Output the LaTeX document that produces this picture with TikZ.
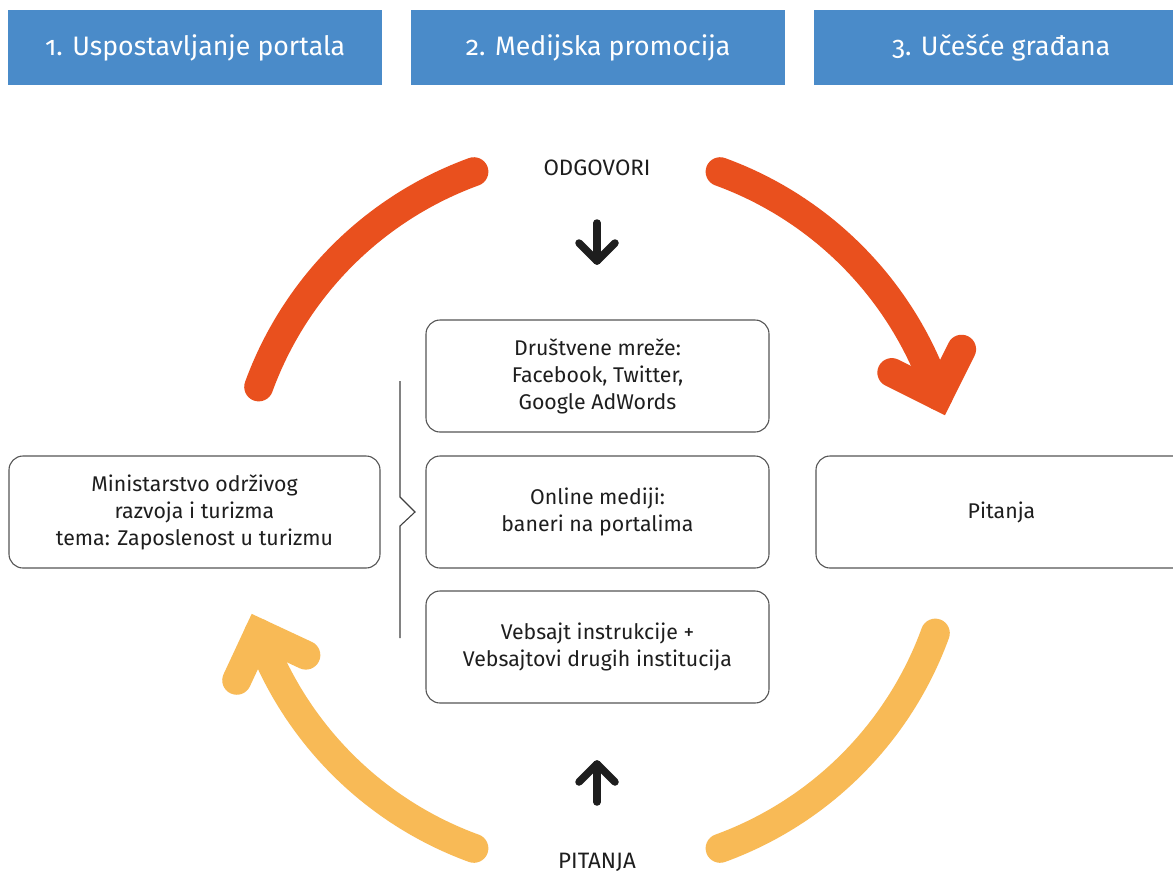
\documentclass[tikz,border=0pt]{standalone}
\usepackage{fontspec}
\setmainfont{Fira Sans}
\newfontfamily\headfont[Numbers=OldStyle]{Fira Sans}
\usetikzlibrary{calc}
\definecolor{hdrblue}{HTML}{4A8BC9}
\definecolor{arcorange}{HTML}{E9501E}
\definecolor{arcyellow}{HTML}{F8BA56}
\definecolor{boxgray}{HTML}{555555}
\definecolor{txt}{HTML}{1E1E1E}
\tikzset{
  hdr/.style={fill=hdrblue, text=white, minimum width=374, minimum height=75, inner sep=0, anchor=north west,
    font=\headfont\fontsize{26.7}{30}\selectfont},
  infobox/.style={draw=boxgray, line width=1.1, rounded corners=14, minimum height=112, inner sep=0,
    align=center, text=txt, font=\fontsize{21.3}{27}\selectfont},
  lbl/.style={text=txt, font=\fontsize{22.3}{26}\selectfont, inner sep=0},
  bigarc/.style={line width=29, line cap=round, line join=miter},
  blackarrow/.style={line width=7.5, line cap=round, line join=round, draw=txt},
  bracket/.style={draw=txt!85, line width=1.1}
}
\begin{document}
\begin{tikzpicture}[x=1pt,y=1pt]
\path[use as bounding box] (0,0) rectangle (1173,-873);
\clip (0,0) rectangle (1173,-873);
\fill[white] (0,0) rectangle (1173,-873);

% headers
\node[hdr] (h1) at (8,-10) {1. Uspostavljanje portala};
\node[hdr] (h2) at (411,-10) {2. Medijska promocija};
\node[hdr] (h3) at (814,-10) {3. Učešće građana};

% circle arcs
\coordinate (C) at (597,-510);
\draw[bigarc, arcorange] ($(C)+(110:360)$) arc[start angle=110, end angle=160, radius=360];
\draw[bigarc, arcorange] ($(C)+(70:360)$) arc[start angle=70, end angle=18.5, radius=360];
\coordinate (v1) at ($(C)+(18.5:360)$);
\draw[bigarc, arcorange] ($(v1)+(153.5:52)$) -- (v1) -- ($(v1)+(63.5:52)$);
\draw[bigarc, arcyellow] ($(C)+(-20:360)$) arc[start angle=-20, end angle=-70, radius=360];
\draw[bigarc, arcyellow] ($(C)+(250:360)$) arc[start angle=250, end angle=200, radius=360];
\coordinate (v2) at ($(C)+(200:360)$);
\draw[bigarc, arcyellow] ($(v2)+(335:52)$) -- (v2) -- ($(v2)+(245:52)$);

% labels
\node[lbl] (odg) at (597,-168) {ODGOVORI};
\node[lbl] (pit) at (597,-862) {PITANJA};

% black arrows
\coordinate (d1) at (597,-223);
\coordinate (d2) at (597,-261);
\draw[blackarrow] (d1) -- (d2);
\draw[blackarrow] ($(d2)+(-18,18)$) -- (d2) -- ($(d2)+(18,18)$);
\coordinate (u1) at (597,-802);
\coordinate (u2) at (597,-764);
\draw[blackarrow] (u1) -- (u2);
\draw[blackarrow] ($(u2)+(-18,-18)$) -- (u2) -- ($(u2)+(18,-18)$);

% boxes
\node[infobox, minimum width=343] (bA) at (597.5,-376) {Društvene mreže:\\Facebook, Twitter,\\Google AdWords};
\node[infobox, minimum width=343] (bB) at (597.5,-512) {Online mediji:\\baneri na portalima};
\node[infobox, minimum width=343] (bC) at (597.5,-647) {Vebsajt instrukcije +\\Vebsajtovi drugih institucija};
\node[infobox, minimum width=371] (bL) at (194.5,-512) {Ministarstvo održivog\\razvoja i turizma\\tema: Zaposlenost u turizmu};
\node[infobox, minimum width=371] (bR) at (1001.5,-512) {Pitanja};

% bracket
\coordinate (k1) at (400,-381);
\coordinate (k2) at (400,-497);
\coordinate (k3) at (415,-512);
\coordinate (k4) at (400,-526);
\coordinate (k5) at (400,-638);
\draw[bracket] (k1) -- (k2) -- (k3) -- (k4) -- (k5);
\end{tikzpicture}
\end{document}
